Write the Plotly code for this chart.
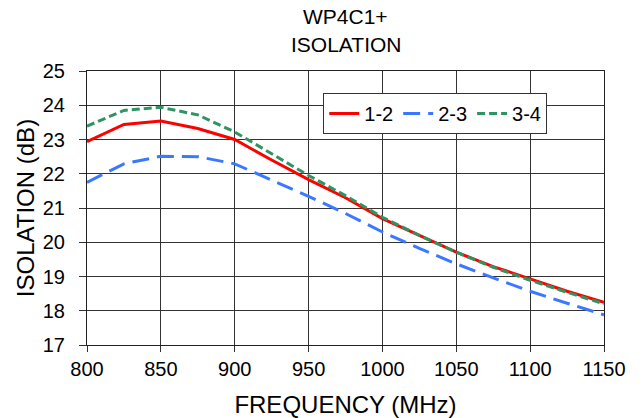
import plotly.graph_objects as go

freq = [800, 825, 850, 875, 900, 925, 950, 975, 1000, 1025, 1050, 1075, 1100, 1125, 1150]
iso_12 = [22.94, 23.44, 23.54, 23.32, 23.0, 22.4, 21.83, 21.3, 20.69, 20.19, 19.71, 19.29, 18.92, 18.57, 18.25]
iso_23 = [21.75, 22.29, 22.51, 22.5, 22.29, 21.82, 21.34, 20.84, 20.3, 19.82, 19.37, 18.96, 18.57, 18.22, 17.88]
iso_34 = [23.39, 23.85, 23.94, 23.72, 23.22, 22.58, 21.95, 21.36, 20.73, 20.2, 19.71, 19.27, 18.89, 18.54, 18.2]

series = [
    ("1-2", iso_12, "#FF0000", "solid"),
    ("2-3", iso_23, "#3A78FF", "17px,8px"),
    ("3-4", iso_34, "#2E9462", "8px,4px"),
]

fig = go.Figure()
for name, vals, color, dash in series:
    fig.add_trace(go.Scatter(x=freq, y=vals, name=name, mode="lines",
                             line=dict(color=color, width=3, dash=dash)))

font = "Liberation Sans, Arial, sans-serif"
# plot area: x 87..604, y 71..345 px
top, bottom = 71, 345
h = bottom - top
def py(pix):
    return (bottom - pix) / h

fig.update_layout(
    width=644, height=418,
    margin=dict(l=87, r=40, t=top, b=418 - bottom, autoexpand=False),
    paper_bgcolor="white", plot_bgcolor="white",
    font=dict(family=font, size=20, color="black"),
    showlegend=True,
    legend=dict(orientation="h", x=0.457, y=py(93), xanchor="left", yanchor="top",
                bordercolor="#333", borderwidth=1, bgcolor="white",
                font=dict(size=20), tracegroupgap=0, itemwidth=30),
    annotations=[
        dict(text="WP4C1+", x=0.5, y=py(17), xref="paper", yref="paper",
             xanchor="center", yanchor="middle", showarrow=False,
             font=dict(size=21)),
        dict(text="ISOLATION", x=0.5, y=py(44), xref="paper", yref="paper",
             xanchor="center", yanchor="middle", showarrow=False,
             font=dict(size=21)),
    ],
)
fig.update_xaxes(range=[800, 1150], tick0=800, dtick=50, showgrid=True,
                 gridcolor="#333", gridwidth=1, showline=True, linecolor="#222",
                 linewidth=1, mirror=True, ticks="outside", ticklen=6,
                 tickcolor="#333", zeroline=False, automargin=False,
                 ticklabelstandoff=0,
                 title=dict(text="FREQUENCY (MHz)", standoff=20))
fig.update_yaxes(range=[17, 25], tick0=17, dtick=1, showgrid=True,
                 gridcolor="#333", gridwidth=1, showline=True, linecolor="#222",
                 linewidth=1, mirror=True, ticks="outside", ticklen=7,
                 tickcolor="#333", zeroline=False, automargin=False,
                 ticklabelstandoff=10,
                 title=dict(text="ISOLATION (dB)", standoff=1))

fig.write_html("out.html",
               config={"displayModeBar": False},
               post_script="document.body.style.margin='0px';document.body.style.overflow='hidden';")
